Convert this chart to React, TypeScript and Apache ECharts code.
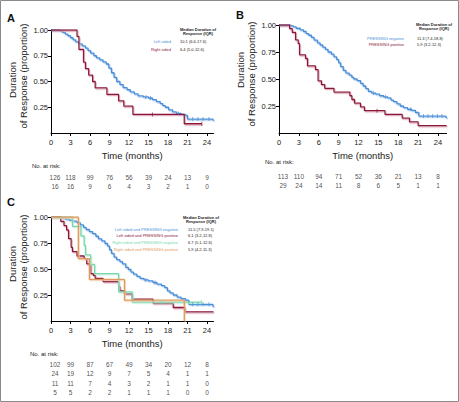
import React, { useEffect, useRef } from "react";
import * as echarts from "echarts";

type Pt = [number, number];

const FONT = "'Liberation Sans', Arial, Helvetica, sans-serif";

const xTicks = [0, 3, 6, 9, 12, 15, 18, 21, 24];
const yTicks = [0.25, 0.5, 0.75, 1.0];

const BLUE = "#4a8fd8";
const RED = "#8b1538";
const GREEN = "#74d9ab";
const ORANGE = "#dd9a5c";

// ---------- Panel A ----------
const aLeft: Pt[] = [
  [0, 1], [1.4, 0.992], [1.8, 0.976], [2.2, 0.96], [2.6, 0.944], [3.0, 0.925], [3.4, 0.905],
  [3.8, 0.885], [4.3, 0.865], [4.8, 0.845], [5.3, 0.825], [5.7, 0.8], [6.1, 0.775], [6.6, 0.75],
  [7.0, 0.73], [7.5, 0.71], [8.0, 0.69], [8.5, 0.67], [8.9, 0.63], [9.3, 0.585], [9.7, 0.54],
  [10.1, 0.5], [10.6, 0.47], [11.1, 0.44], [11.7, 0.42], [12.2, 0.4], [12.8, 0.38], [13.4, 0.36],
  [14.2, 0.35], [15.0, 0.34], [15.6, 0.325], [16.2, 0.305], [16.8, 0.285], [17.2, 0.265],
  [17.6, 0.25], [18.1, 0.225], [18.7, 0.205], [19.3, 0.19], [20.0, 0.18], [20.7, 0.17],
  [21.0, 0.135], [24.9, 0.135], [25.0, 0.12],
];
const aRight: Pt[] = [
  [0, 1], [4.0, 0.9375], [4.3, 0.8125], [5.0, 0.6875], [5.3, 0.625], [5.8, 0.5625], [6.4, 0.5],
  [6.8, 0.4375], [8.6, 0.375], [10.4, 0.3125], [11.2, 0.26], [12.6, 0.18], [20.5, 0.09], [23.2, 0.09],
];
const aLeftCensor: Pt[] = [[14.6, 0.35], [15.3, 0.34], [19.6, 0.19], [21.8, 0.135], [22.6, 0.135], [23.4, 0.135], [24.3, 0.135]];
const aRightCensor: Pt[] = [[15.6, 0.18], [23.2, 0.09]];
const aRiskLeft = [126, 118, 99, 76, 56, 39, 24, 13, 9];
const aRiskRight = [16, 16, 9, 6, 4, 3, 2, 1, 0];
const aLabels = ["Left sided", "Right sided"];
const aMedians = ["10.1 (6.6-17.6)", "6.4 (5.0-12.6)"];

// ---------- Panel B ----------
const bNeg: Pt[] = [
  [0, 1], [1.8, 0.991], [2.2, 0.982], [2.6, 0.97], [3.2, 0.955], [3.7, 0.94], [4.1, 0.92],
  [4.5, 0.905], [4.9, 0.885], [5.3, 0.86], [5.8, 0.835], [6.2, 0.815], [6.6, 0.795], [7.0, 0.775],
  [7.4, 0.75], [7.9, 0.73], [8.3, 0.705], [8.7, 0.68], [9.0, 0.65], [9.3, 0.615], [9.7, 0.58],
  [10.1, 0.555], [10.6, 0.535], [11.0, 0.515], [11.3, 0.5], [11.8, 0.485], [12.3, 0.46],
  [12.7, 0.435], [13.1, 0.41], [13.5, 0.385], [14.0, 0.37], [14.6, 0.36], [15.2, 0.345],
  [15.8, 0.335], [16.4, 0.325], [16.9, 0.305], [17.3, 0.29], [17.8, 0.27], [18.3, 0.25],
  [18.8, 0.235], [19.4, 0.22], [20.0, 0.21], [20.6, 0.19], [21.1, 0.157], [25.2, 0.15], [25.3, 0.136],
];
const bPos: Pt[] = [
  [0, 1], [1.6, 0.966], [2.0, 0.931], [2.5, 0.862], [2.9, 0.828], [3.1, 0.724], [4.0, 0.69],
  [4.3, 0.621], [5.5, 0.586], [5.9, 0.483], [6.4, 0.448], [6.9, 0.414], [8.3, 0.379], [10.7, 0.345],
  [11.0, 0.31], [11.4, 0.276], [12.3, 0.241], [12.9, 0.207], [16.0, 0.172], [18.6, 0.138],
  [19.7, 0.103], [21.0, 0.069], [25.3, 0.069],
];
const bNegCensor: Pt[] = [[14.3, 0.37], [16.1, 0.335], [19.9, 0.22], [21.8, 0.157], [22.5, 0.157], [23.2, 0.157], [23.9, 0.157], [24.6, 0.157]];
const bPosCensor: Pt[] = [[14.8, 0.207]];
const bRiskNeg = [113, 110, 94, 71, 52, 36, 21, 13, 8];
const bRiskPos = [29, 24, 14, 11, 8, 6, 5, 1, 1];
const bLabels = ["PRESSING negative", "PRESSING positive"];
const bMedians = ["11.3 (7.4-18.8)", "5.9 (3.2-12.3)"];

// ---------- Panel C ----------
const cLeftNeg: Pt[] = [
  [0, 1], [1.6, 0.99], [2.2, 0.98], [2.8, 0.97], [3.4, 0.96], [4.0, 0.945], [4.5, 0.925],
  [5.0, 0.9], [5.4, 0.88], [5.9, 0.86], [6.4, 0.84], [6.9, 0.815], [7.3, 0.79], [7.8, 0.77],
  [8.3, 0.745], [8.7, 0.72], [9.0, 0.685], [9.3, 0.65], [9.7, 0.615], [10.1, 0.59], [10.6, 0.57],
  [11.0, 0.55], [11.5, 0.515], [11.9, 0.495], [12.3, 0.47], [12.7, 0.45], [13.2, 0.43],
  [13.7, 0.41], [14.3, 0.395], [15.0, 0.385], [15.7, 0.37], [16.3, 0.355], [17.0, 0.34],
  [17.5, 0.32], [17.9, 0.29], [18.3, 0.27], [18.8, 0.25], [19.4, 0.23], [20.0, 0.215],
  [20.7, 0.2], [21.2, 0.16], [24.9, 0.15], [25.0, 0.135],
];
const cLeftPos: Pt[] = [
  [0, 1], [1.5, 0.958], [2.0, 0.917], [2.4, 0.875], [2.7, 0.792], [3.1, 0.708], [3.3, 0.667],
  [4.0, 0.625], [5.1, 0.6], [5.5, 0.55], [6.1, 0.455], [6.5, 0.44], [6.8, 0.41], [8.0, 0.38],
  [10.4, 0.33], [10.6, 0.29], [11.4, 0.26], [12.5, 0.21], [15.7, 0.17], [18.8, 0.13],
  [20.6, 0.087], [25.0, 0.087],
];
const cRightNeg: Pt[] = [
  [0, 1], [3.3, 0.909], [4.6, 0.818], [5.1, 0.727], [5.3, 0.636], [6.1, 0.545], [6.7, 0.455],
  [10.4, 0.28], [12.5, 0.182], [23.2, 0.182],
];
const cRightPos: Pt[] = [
  [0, 1], [4.2, 0.6], [5.9, 0.4], [11.3, 0.2], [20.5, 0],
];
const cLeftNegCensor: Pt[] = [[14.6, 0.395], [16.0, 0.37], [21.8, 0.16], [22.6, 0.16], [23.4, 0.16], [24.3, 0.16]];
const cRightNegCensor: Pt[] = [[17.0, 0.182], [23.2, 0.182]];
const cRisk1 = [102, 99, 87, 67, 49, 34, 20, 12, 8];
const cRisk2 = [24, 19, 12, 9, 7, 5, 4, 1, 1];
const cRisk3 = [11, 11, 7, 4, 3, 2, 1, 1, 0];
const cRisk4 = [5, 5, 2, 2, 1, 1, 1, 0, 0];
const cLabels = [
  "Left sided and PRESSING negative",
  "Left sided and PRESSING positive",
  "Right sided and PRESSING negative",
  "Right sided and PRESSING positive",
];
const cMedians = ["11.5 (7.9-19.1)", "6.1 (3.2-12.8)", "6.7 (5.1-12.6)", "5.9 (4.2-11.3)"];

const headerLines = ["Median Duration of", "Response (IQR)"];
const yTitle = ["Duration", "of Response (proportion)"];
const xTitle = "Time (months)";
const riskTitle = "No. at risk:";

function mainX(gridIndex: number, max: number) {
  return {
    type: "value", gridIndex, min: 0, max,
    axisLine: { show: true, onZero: false, lineStyle: { color: "#000", width: 1 } },
    axisTick: { show: true, length: 3, customValues: xTicks, lineStyle: { color: "#000", width: 1 } },
    axisLabel: { customValues: xTicks, fontSize: 7.5, color: "#222", margin: 5, fontFamily: FONT },
    splitLine: { show: false },
    name: xTitle, nameLocation: "middle", nameGap: 17,
    nameTextStyle: { fontSize: 9.5, color: "#222", fontFamily: FONT },
  };
}
function mainY(gridIndex: number) {
  return {
    type: "value", gridIndex, min: 0, max: 1,
    axisLine: { show: true, onZero: false, lineStyle: { color: "#000", width: 1 } },
    axisTick: { show: true, length: 3, customValues: yTicks, lineStyle: { color: "#000", width: 1 } },
    axisLabel: { customValues: yTicks, fontSize: 7.5, color: "#222", margin: 3, fontFamily: FONT,
      formatter: (v: number) => v.toFixed(2) },
    splitLine: { show: false },
  };
}
function riskX(gridIndex: number, max: number) {
  return { type: "value", gridIndex, min: 0, max, show: false, splitLine: { show: false } };
}
function riskY(gridIndex: number, rows: number) {
  return { type: "value", gridIndex, min: 0, max: rows, inverse: true, show: false, splitLine: { show: false } };
}

function km(data: Pt[], color: string, axis: number, shadow: string) {
  return {
    type: "line", xAxisIndex: axis, yAxisIndex: axis, data, step: "end", showSymbol: false,
    silent: true, z: 3,
    lineStyle: { color, width: 1.3, shadowColor: shadow, shadowOffsetX: 0.8, shadowOffsetY: 1.2, shadowBlur: 0 },
  };
}
function censor(data: Pt[], color: string, axis: number) {
  return {
    type: "scatter", xAxisIndex: axis, yAxisIndex: axis, data, symbol: "rect",
    symbolSize: [0.9, 4], itemStyle: { color }, silent: true, z: 4,
  };
}
function riskRow(values: number[], row: number, axis: number) {
  return {
    type: "scatter", xAxisIndex: axis, yAxisIndex: axis, symbolSize: 0, silent: true,
    data: values.map((v, i) => ({
      value: [xTicks[i], row + 0.5, v],
      label: i === 0 ? { offset: [4, 0] } : undefined,
    })),
    label: {
      show: true, position: "inside", fontSize: 6.5, color: "#222", fontFamily: FONT,
      formatter: (p: any) => String(p.value[2]),
    },
  };
}

function txt(text: string, x: number, y: number, o: any = {}) {
  return {
    type: "text", x, y, rotation: o.rotation || 0, silent: true,
    style: {
      text, fill: o.fill || "#222", fontSize: o.size || 4, fontWeight: o.bold ? "bold" : "normal",
      fontFamily: FONT, align: o.align || "left", verticalAlign: "middle",
    },
  };
}

function legend(cx: number, yHead: number, labelRight: number, valueLeft: number, rows: number[],
  labels: string[], values: string[], colors: string[]) {
  const out: any[] = [
    txt(headerLines[0], cx, yHead, { bold: true, align: "center", size: 4 }),
    txt(headerLines[1], cx, yHead + 4, { bold: true, align: "center", size: 4 }),
  ];
  labels.forEach((l, i) => {
    out.push(txt(l, labelRight, rows[i], { align: "right", fill: colors[i], size: 4 }));
    out.push(txt(values[i], valueLeft, rows[i], { size: 4 }));
  });
  return out;
}

export default function App() {
  const ref = useRef<HTMLDivElement>(null);
  useEffect(() => {
    document.body.style.margin = "0";
    const chart = echarts.init(ref.current!, null, { renderer: "svg" });
    const option: any = {
      animation: false,
      backgroundColor: "#fff",
      textStyle: { fontFamily: FONT },
      grid: [
        { left: 51, top: 30, width: 162.5, height: 103 },
        { left: 279, top: 25, width: 167.6, height: 108 },
        { left: 51, top: 217, width: 162.5, height: 104 },
        { left: 51, top: 172.5, width: 162.5, height: 18 },
        { left: 279, top: 171.5, width: 167.6, height: 18 },
        { left: 51, top: 359.25, width: 162.5, height: 38 },
      ],
      xAxis: [mainX(0, 25), mainX(1, 25.3), mainX(2, 25), riskX(3, 25), riskX(4, 25.3), riskX(5, 25)],
      yAxis: [mainY(0), mainY(1), mainY(2), riskY(3, 2), riskY(4, 2), riskY(5, 4)],
      series: [
        km(aLeft, BLUE, 0, "rgba(150,190,235,0.8)"),
        km(aRight, RED, 0, "rgba(215,150,170,0.9)"),
        censor(aLeftCensor, BLUE, 0),
        censor(aRightCensor, RED, 0),
        km(bNeg, BLUE, 1, "rgba(150,190,235,0.8)"),
        km(bPos, RED, 1, "rgba(215,150,170,0.9)"),
        censor(bNegCensor, BLUE, 1),
        censor(bPosCensor, RED, 1),
        km(cLeftNeg, BLUE, 2, "rgba(150,190,235,0.8)"),
        km(cLeftPos, RED, 2, "rgba(215,150,170,0.9)"),
        km(cRightNeg, GREEN, 2, "rgba(180,235,210,0.8)"),
        km(cRightPos, ORANGE, 2, "rgba(240,200,160,0.8)"),
        censor(cLeftNegCensor, BLUE, 2),
        censor(cRightNegCensor, GREEN, 2),
        riskRow(aRiskLeft, 0, 3),
        riskRow(aRiskRight, 1, 3),
        riskRow(bRiskNeg, 0, 4),
        riskRow(bRiskPos, 1, 4),
        riskRow(cRisk1, 0, 5),
        riskRow(cRisk2, 1, 5),
        riskRow(cRisk3, 2, 5),
        riskRow(cRisk4, 3, 5),
      ],
      graphic: [
        { type: "rect", silent: true, shape: { x: 0.5, y: 0.5, width: 458, height: 401 },
          style: { fill: "none", stroke: "#8a8a8a", lineWidth: 1 } },
        txt("A", 7, 18, { size: 11, bold: true, fill: "#111" }),
        txt("B", 236, 15, { size: 11, bold: true, fill: "#111" }),
        txt("C", 7, 202, { size: 11, bold: true, fill: "#111" }),
        txt(yTitle[0], 12, 80, { size: 9.5, align: "center", rotation: Math.PI / 2 }),
        txt(yTitle[1], 23.5, 76, { size: 9.5, align: "center", rotation: Math.PI / 2 }),
        txt(yTitle[0], 240, 70, { size: 9.5, align: "center", rotation: Math.PI / 2 }),
        txt(yTitle[1], 251.5, 74, { size: 9.5, align: "center", rotation: Math.PI / 2 }),
        txt(yTitle[0], 12, 264, { size: 9.5, align: "center", rotation: Math.PI / 2 }),
        txt(yTitle[1], 23.5, 267, { size: 9.5, align: "center", rotation: Math.PI / 2 }),
        txt(riskTitle, 32, 166, { size: 6 }),
        txt(riskTitle, 265, 162, { size: 6 }),
        txt(riskTitle, 30, 354, { size: 6 }),
        ...legend(198, 29, 171, 180, [41, 49], aLabels, aMedians, [BLUE, RED]),
        ...legend(434, 24, 404, 417, [38, 44], bLabels, bMedians, [BLUE, RED]),
        ...legend(201, 217, 178, 188, [229, 235.5, 242, 249], cLabels, cMedians, [BLUE, RED, GREEN, ORANGE]),
      ],
    };
    chart.setOption(option);
    return () => chart.dispose();
  }, []);
  return <div ref={ref} style={{ width: 459, height: 402 }} />;
}
